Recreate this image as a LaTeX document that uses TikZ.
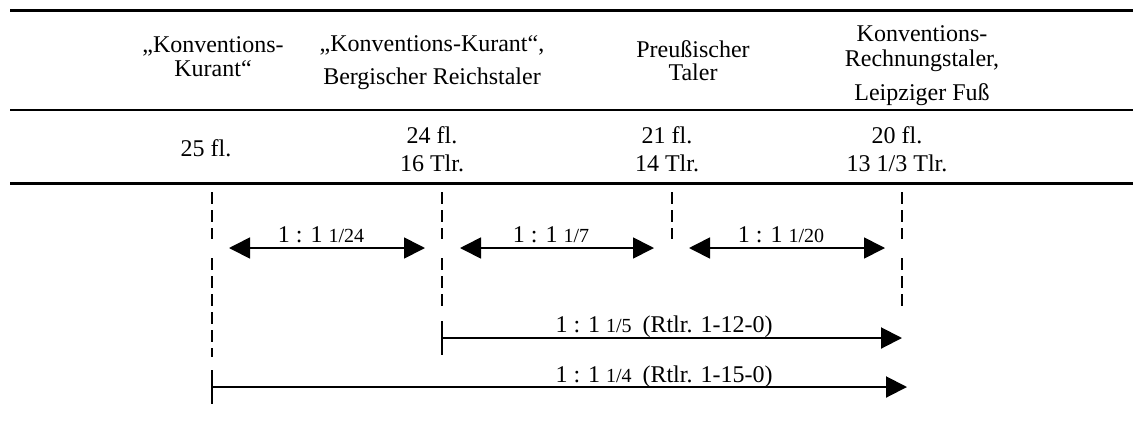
\documentclass[tikz,border=0pt]{standalone}
\usepackage{fontspec}
\setmainfont{Liberation Serif}
\usetikzlibrary{arrows.meta}
% smaller type for the fractional part of a ratio
\newcommand\bruch[1]{{\fontsize{10}{12}\selectfont #1}}
\begin{document}
\begin{tikzpicture}[x=0.5pt,y=-0.5pt,
  txt/.style={anchor=base, inner sep=0pt, font=\fontsize{12}{14}\selectfont},
  rule/.style={line width=1.3pt},
  guide/.style={line width=0.8pt, dash pattern=on 6pt off 3pt},
  tip/.style={Triangle[length=10.5pt,width=10.5pt]},
  ratio/.style={line width=0.85pt, {Triangle[length=10.5pt,width=10.5pt]}-{Triangle[length=10.5pt,width=10.5pt]}},
  span/.style={line width=1pt, -{Triangle[length=10.5pt,width=10.5pt]}},
  tickmark/.style={line width=1pt}]
\useasboundingbox (0,0) rectangle (1133,434);

% table rules
\coordinate (r1l) at (10,10.7);  \coordinate (r1r) at (1133,10.7);
\coordinate (r2l) at (10,110);   \coordinate (r2r) at (1133,110);
\coordinate (r3l) at (10,183.5); \coordinate (r3r) at (1133,183.5);
\draw[rule] (r1l) -- (r1r);
\draw[rule] (r2l) -- (r2r);
\draw[rule] (r3l) -- (r3r);

% column headings
\node[txt] (h1a) at (213,52) {„Konventions-};
\node[txt] (h1b) at (213,76) {Kurant“};
\node[txt] (h2a) at (432,51) {„Konventions-Kurant“,};
\node[txt] (h2b) at (432,84) {Bergischer Reichstaler};
\node[txt] (h3a) at (693,57) {Preußischer};
\node[txt] (h3b) at (693,80) {Taler};
\node[txt] (h4a) at (922,41) {Konventions-};
\node[txt] (h4b) at (922,66) {Rechnungstaler,};
\node[txt] (h4c) at (922,100) {Leipziger Fuß};

% coin standards
\node[txt] (v1)  at (206,156) {25 fl.};
\node[txt] (v2a) at (432,143) {24 fl.};
\node[txt] (v2b) at (432,171) {16 Tlr.};
\node[txt] (v3a) at (667,143) {21 fl.};
\node[txt] (v3b) at (667,171) {14 Tlr.};
\node[txt] (v4a) at (897,143) {20 fl.};
\node[txt] (v4b) at (897,171) {13 1/3 Tlr.};

% dashed guides below each column
\coordinate (g1a) at (211.7,192); \coordinate (g1b) at (211.7,239);
\coordinate (g1c) at (211.7,258); \coordinate (g1d) at (211.7,357);
\coordinate (g2a) at (442,192);   \coordinate (g2b) at (442,239);
\coordinate (g2c) at (442,258);   \coordinate (g2d) at (442,308);
\coordinate (g3a) at (672,192);   \coordinate (g3b) at (672,239);
\coordinate (g4a) at (902,192);   \coordinate (g4b) at (902,239);
\coordinate (g4c) at (902,258);   \coordinate (g4d) at (902,308);
\draw[guide] (g1a) -- (g1b) (g1c) -- (g1d);
\draw[guide] (g2a) -- (g2b) (g2c) -- (g2d);
\draw[guide] (g3a) -- (g3b);
\draw[guide] (g4a) -- (g4b) (g4c) -- (g4d);

% ratios between neighbouring standards
\coordinate (a1l) at (229,248); \coordinate (a1r) at (425,248);
\coordinate (a2l) at (460,248); \coordinate (a2r) at (654,248);
\coordinate (a3l) at (689,248); \coordinate (a3r) at (885,248);
\draw[ratio] (a1l) -- (a1r);
\draw[ratio] (a2l) -- (a2r);
\draw[ratio] (a3l) -- (a3r);
\node[txt] (l1) at (321,242) {1 : 1 \bruch{1/24}};
\node[txt] (l2) at (551,242) {1 : 1 \bruch{1/7}};
\node[txt] (l3) at (781,242) {1 : 1 \bruch{1/20}};

% ratios over several standards
\coordinate (t2a) at (442,321);   \coordinate (t2b) at (442,355);
\coordinate (s2l) at (442,338);   \coordinate (s2r) at (902,338);
\coordinate (t1a) at (211.7,370); \coordinate (t1b) at (211.7,404);
\coordinate (s1l) at (211.7,387); \coordinate (s1r) at (907,387);
\draw[tickmark] (t2a) -- (t2b);
\draw[span] (s2l) -- (s2r);
\draw[tickmark] (t1a) -- (t1b);
\draw[span] (s1l) -- (s1r);
\node[txt] (l4) at (664,332) {1 : 1 \bruch{1/5}\hspace{0.45em}(Rtlr. 1-12-0)};
\node[txt] (l5) at (664,382) {1 : 1 \bruch{1/4}\hspace{0.45em}(Rtlr. 1-15-0)};
\end{tikzpicture}
\end{document}
